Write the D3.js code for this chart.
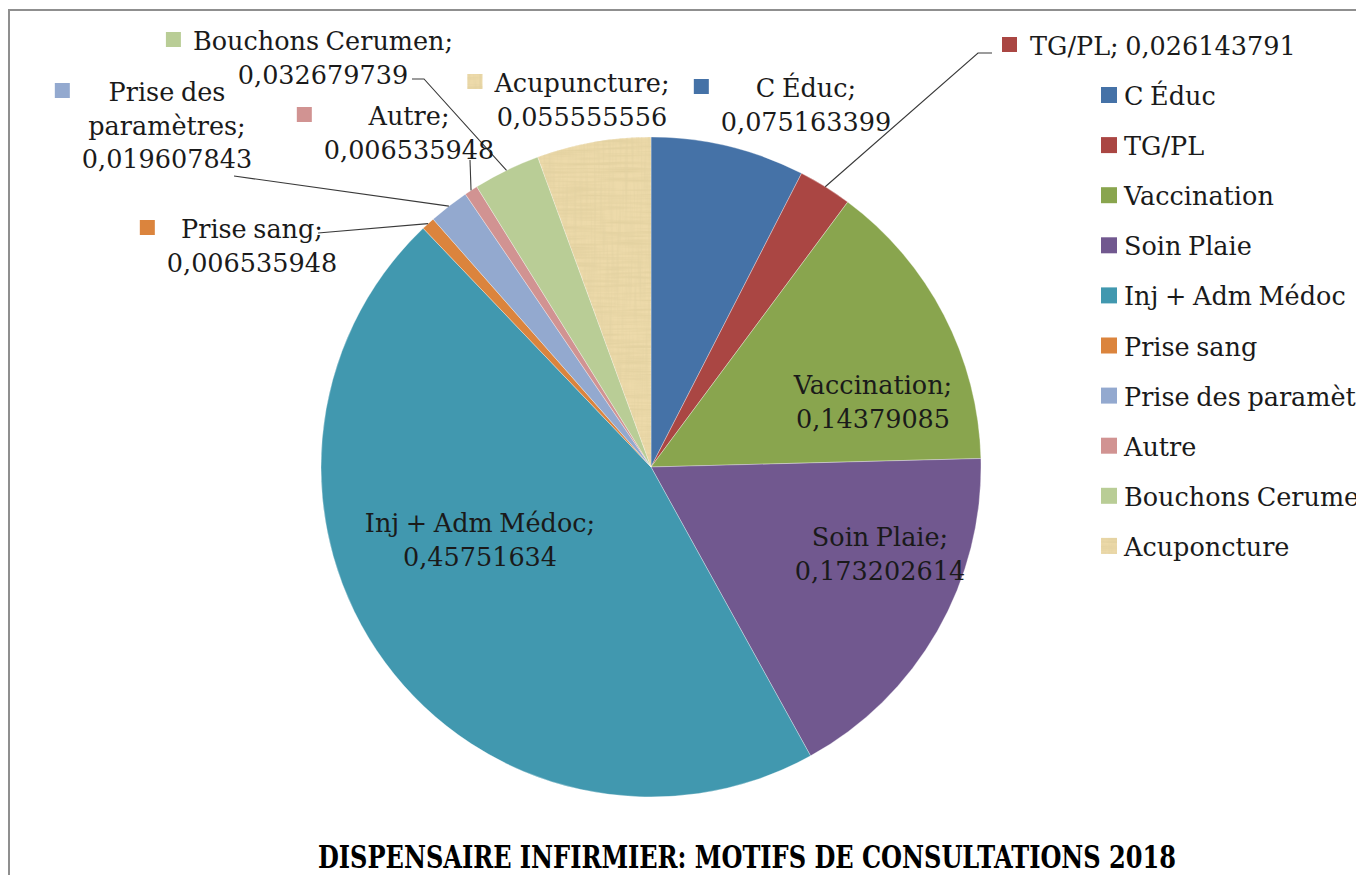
<!DOCTYPE html>
<html>
<head>
<meta charset="utf-8">
<script src="https://cdn.jsdelivr.net/npm/d3@7"></script>
<style>
  html, body { margin: 0; padding: 0; background: #fff; overflow: hidden; }
  text { font-family: "DejaVu Serif", serif; fill: #1a1a1a; word-spacing: -1.5px; }
</style>
</head>
<body>
<svg id="chart" width="1356" height="875"></svg>
<script>
// Motifs de consultation du dispensaire infirmier, 2018 (part de chaque motif)
const categories = ["C Éduc", "TG/PL", "Vaccination", "Soin Plaie", "Inj + Adm Médoc",
                    "Prise sang", "Prise des paramètres", "Autre", "Bouchons Cerumen", "Acuponcture"];
const labelNames = ["C Éduc", "TG/PL", "Vaccination", "Soin Plaie", "Inj + Adm Médoc",
                    "Prise sang", "Prise des paramètres", "Autre", "Bouchons Cerumen", "Acupuncture"];
const values = [0.075163399, 0.026143791, 0.14379085, 0.173202614, 0.45751634,
                0.006535948, 0.019607843, 0.006535948, 0.032679739, 0.055555556];
const colors = ["#4572A7", "#AA4643", "#89A54E", "#71588F", "#4198AF",
                "#DB843D", "#93A9CF", "#D19392", "#B9CD96", "#EDDAAA"];
const textured = [false, false, false, false, false, false, false, false, false, true];
const title = "DISPENSAIRE INFIRMIER: MOTIFS DE CONSULTATIONS 2018";

// Mise en page des étiquettes de données
const labelLayout = [
  { cx: 806, y: 97,  split: "lines", swatch: true },
  { cx: 0,   y: 55,  split: "single", swatch: true, left: 1030, leader: [[978, 53], [992, 53]] },
  { cx: 873, y: 394, split: "lines", swatch: false },
  { cx: 880, y: 546, split: "lines", swatch: false },
  { cx: 480, y: 532, split: "lines", swatch: false },
  { cx: 252, y: 238, split: "lines", swatch: true, leader: [[318, 233]] },
  { cx: 167, y: 101, split: "param", swatch: true, leader: [[234, 176]] },
  { cx: 409, y: 125, split: "lines", swatch: true, leader: [[470, 160]] },
  { cx: 323, y: 50,  split: "lines", swatch: true, leader: [[424, 79], [412, 79]] },
  { cx: 582, y: 92,  split: "lines", swatch: true }
];

const W = 1356, H = 875;
const cx = 651, cy = 467, R = 330;
const fontSize = 25.5, lineH = 33.5;

const svg = d3.select("#chart");
const defs = svg.append("defs");

// Texture de papyrus : fibres horizontales et verticales superposées
const flt = defs.append("filter").attr("id", "fibres")
  .attr("filterUnits", "userSpaceOnUse")
  .attr("x", 0).attr("y", 0).attr("width", W).attr("height", H);
flt.append("feTurbulence").attr("type", "fractalNoise")
  .attr("baseFrequency", "0.02 0.35").attr("numOctaves", 2).attr("seed", 4).attr("result", "h");
flt.append("feTurbulence").attr("type", "fractalNoise")
  .attr("baseFrequency", "0.35 0.02").attr("numOctaves", 2).attr("seed", 9).attr("result", "v");
flt.append("feColorMatrix").attr("in", "h").attr("type", "matrix")
  .attr("values", "0 0 0 0 0.72  0 0 0 0 0.60  0 0 0 0 0.32  1.4 0 0 0 -0.52").attr("result", "ha");
flt.append("feColorMatrix").attr("in", "v").attr("type", "matrix")
  .attr("values", "0 0 0 0 0.76  0 0 0 0 0.64  0 0 0 0 0.36  1.4 0 0 0 -0.55").attr("result", "va");
const merge = flt.append("feMerge").attr("result", "m");
merge.append("feMergeNode").attr("in", "ha");
merge.append("feMergeNode").attr("in", "va");
flt.append("feComposite").attr("in", "m").attr("in2", "SourceGraphic").attr("operator", "in");

// Cadre de la zone de graphique
svg.append("rect")
  .attr("x", 9).attr("y", 10).attr("width", W + 20).attr("height", H + 20)
  .attr("fill", "none").attr("stroke", "#8f8f8f").attr("stroke-width", 2);

const pie = d3.pie().sort(null).value(d => d)(values);
const arc = d3.arc().innerRadius(0).outerRadius(R);
const g = svg.append("g").attr("transform", `translate(${cx},${cy})`);

g.selectAll("path.slice").data(pie).join("path")
  .attr("class", "slice")
  .attr("d", arc)
  .attr("fill", (d, i) => colors[i])
  .attr("stroke", "rgba(255,255,255,0.45)")
  .attr("stroke-width", 0.7);

// Couche de texture sur les parts concernées
const texLayer = svg.append("g").attr("filter", "url(#fibres)");
texLayer.selectAll("path").data(pie.filter((d, i) => textured[i])).join("path")
  .attr("transform", `translate(${cx},${cy})`)
  .attr("d", arc).attr("fill", "#000");

const fmt = v => String(v).replace(".", ",");
const edgePoint = (d, r) => {
  const a = (d.startAngle + d.endAngle) / 2;
  return [cx + r * Math.sin(a), cy - r * Math.cos(a)];
};

// Lignes de repère
const line = d3.line();
pie.forEach((d, i) => {
  const L = labelLayout[i];
  if (!L.leader) return;
  const pts = [edgePoint(d, R), ...L.leader];
  svg.append("path").attr("d", line(pts))
    .attr("fill", "none").attr("stroke", "#3a3a3a").attr("stroke-width", 1.1);
});

// Pastille de couleur (avec texture si besoin)
function swatch(parent, x, y, size, i) {
  parent.append("rect").attr("x", x).attr("y", y).attr("width", size).attr("height", size)
    .attr("fill", colors[i]);
  if (textured[i]) {
    parent.append("rect").attr("x", x).attr("y", y).attr("width", size).attr("height", size)
      .attr("fill", "#000").attr("filter", "url(#fibres)");
  }
}

// Étiquettes de données
pie.forEach((d, i) => {
  const L = labelLayout[i];
  const val = fmt(values[i]);
  const lab = svg.append("g");
  if (L.split === "single") {
    lab.append("text").attr("x", L.left).attr("y", L.y)
      .attr("font-size", fontSize).text(`${labelNames[i]}; ${val}`);
    swatch(lab, L.left - 28, L.y - 18, 15, i);
    return;
  }
  const lines = L.split === "param"
    ? ["Prise des", "paramètres;", val]
    : [`${labelNames[i]};`, val];
  let maxW = 0;
  lines.forEach((t, k) => {
    const el = lab.append("text").attr("x", L.cx).attr("y", L.y + k * lineH)
      .attr("text-anchor", "middle").attr("font-size", fontSize).text(t);
    maxW = Math.max(maxW, el.node().getComputedTextLength());
  });
  if (L.swatch) swatch(lab, L.cx - maxW / 2 - 27, L.y - 18, 15, i);
});

// Légende
const legend = svg.append("g");
categories.forEach((c, i) => {
  const y = 105 + i * 50.1;
  swatch(legend, 1101, y - 18, 16, i);
  legend.append("text").attr("x", 1124).attr("y", y).attr("font-size", fontSize).text(c);
});

// Titre
svg.append("text")
  .attr("x", 747).attr("y", 868)
  .attr("text-anchor", "middle")
  .attr("font-size", 32).attr("font-weight", "bold")
  .attr("textLength", 858).attr("lengthAdjust", "spacingAndGlyphs")
  .style("fill", "#000").style("word-spacing", "0px")
  .text(title);
</script>
</body>
</html>
